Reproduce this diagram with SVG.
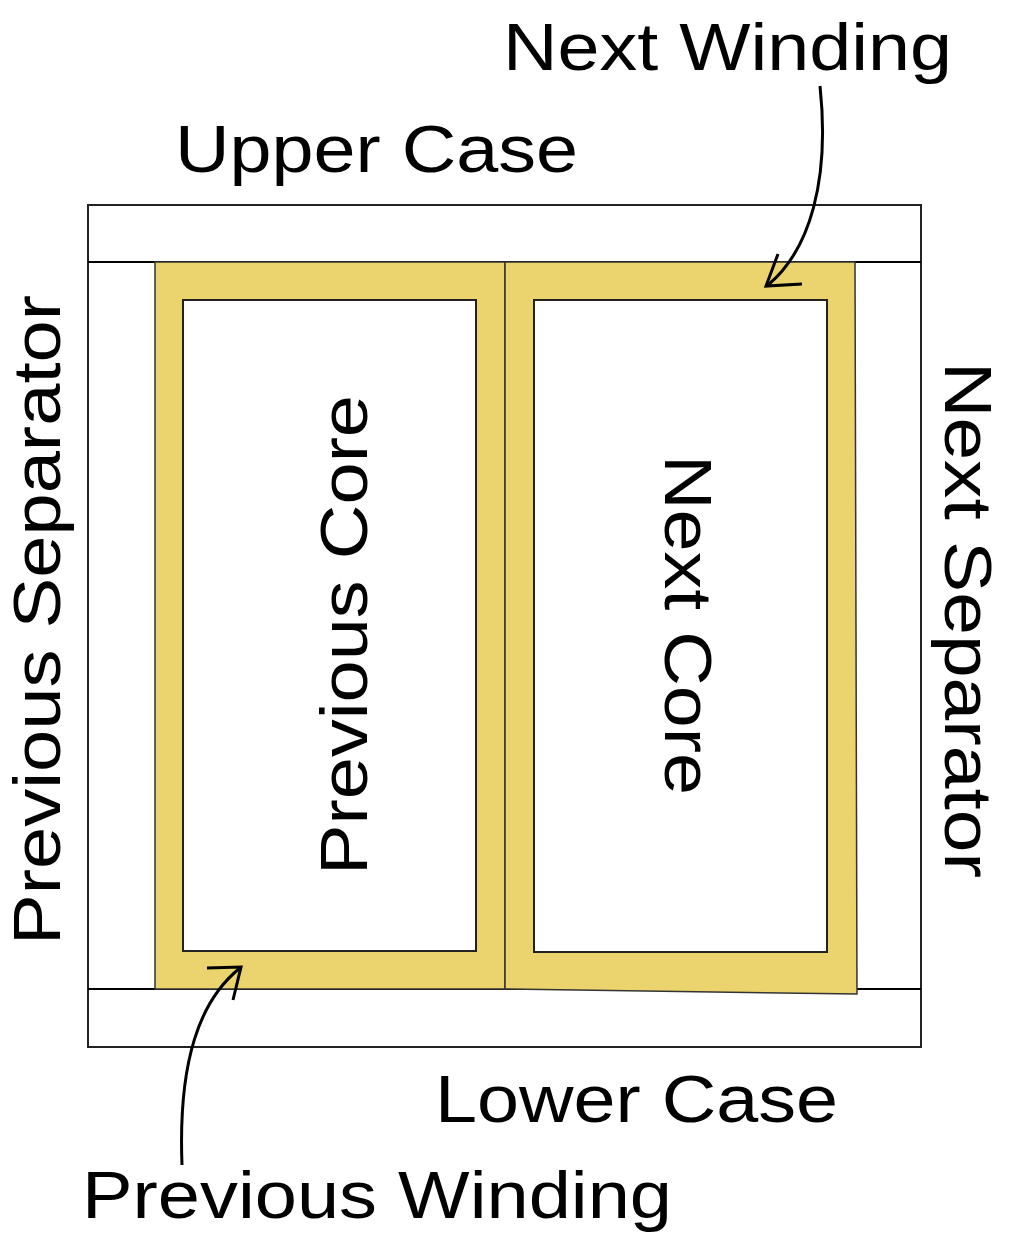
<svg xmlns="http://www.w3.org/2000/svg" width="1024" height="1244" viewBox="0 0 1024 1244">
<style>
text{font-family:"Liberation Sans",Arial,sans-serif;font-size:66px;fill:#000}
.w{fill:#ebd36e;stroke:#333;stroke-width:1.5}
.in{fill:#fff;stroke:#222;stroke-width:2}
.c{fill:none;stroke:#000;stroke-width:3}
</style>
<rect width="1024" height="1244" fill="#fff"/>
<g id="case">
<rect x="88" y="205" width="833" height="842" fill="#fff" stroke="#222" stroke-width="2"/>
<line x1="88" y1="262" x2="921" y2="262" stroke="#000" stroke-width="2"/>
<line x1="88" y1="989" x2="921" y2="989" stroke="#000" stroke-width="2"/>
</g>
<g id="prev-winding">
<rect class="w" x="155" y="262" width="350" height="727"/>
<rect class="in" x="183" y="300" width="293" height="651"/>
</g>
<g id="next-winding">
<polygon class="w" points="505,262 855,262 857,994 505,989"/>
<rect class="in" x="534" y="300" width="293" height="652"/>
</g>
<g id="labels">
<text x="175" y="172" textLength="403" lengthAdjust="spacingAndGlyphs">Upper Case</text>
<text x="503" y="70" textLength="449" lengthAdjust="spacingAndGlyphs">Next Winding</text>
<text x="435" y="1122" textLength="403" lengthAdjust="spacingAndGlyphs">Lower Case</text>
<text x="82" y="1218" textLength="590" lengthAdjust="spacingAndGlyphs">Previous Winding</text>
<text transform="translate(60,945) rotate(-90)" textLength="650" lengthAdjust="spacingAndGlyphs">Previous Separator</text>
<text transform="translate(367,875) rotate(-90)" textLength="480" lengthAdjust="spacingAndGlyphs">Previous Core</text>
<text transform="translate(665,455) rotate(90)" textLength="340" lengthAdjust="spacingAndGlyphs">Next Core</text>
<text transform="translate(945,362) rotate(90)" textLength="516" lengthAdjust="spacingAndGlyphs">Next Separator</text>
</g>
<g id="connectors">
<path class="c" d="M820,86 C830,180 810,250 768,285"/>
<path class="c" d="M778,254 L766,286 L802,284"/>
<path class="c" d="M182,1165 C178,1060 200,1000 240,968"/>
<path class="c" d="M207,968 L241,967 L233,1000"/>
</g>
</svg>
